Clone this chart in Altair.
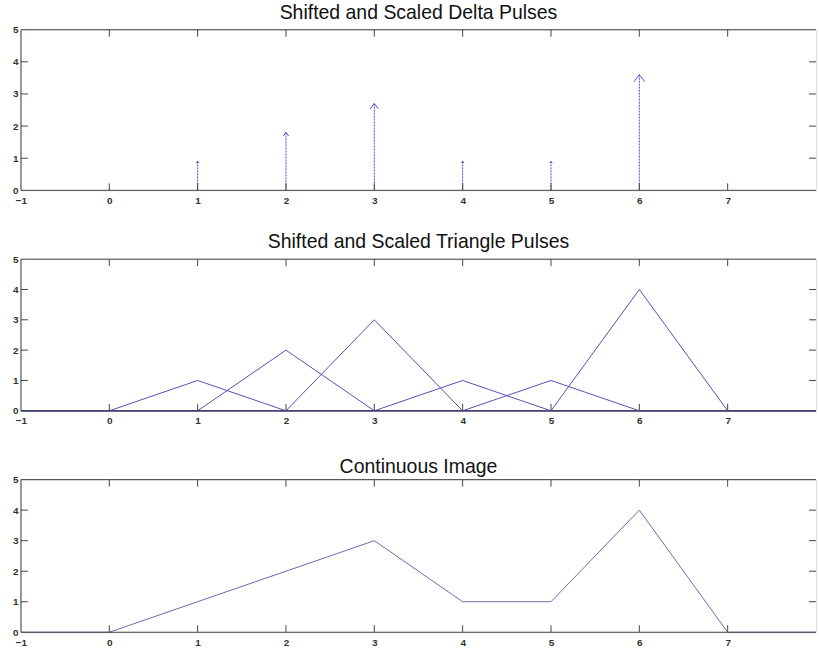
import altair as alt
import pandas as pd

# ---- data -------------------------------------------------------------
x_grid = [-1, 0, 1, 2, 3, 4, 5, 6, 7, 8]

# impulse positions and drawn arrow heights
delta_pos = [1, 2, 3, 4, 5, 6]
delta_height = [0.9, 1.8, 2.7, 0.9, 0.9, 3.6]

# triangle pulses sampled on x_grid
tri_p1 = [0, 0, 1, 0, 0, 0, 0, 0, 0, 0]
tri_p2 = [0, 0, 0, 2, 0, 0, 0, 0, 0, 0]
tri_p3 = [0, 0, 0, 0, 3, 0, 0, 0, 0, 0]
tri_p4 = [0, 0, 0, 0, 0, 1, 0, 0, 0, 0]
tri_p5 = [0, 0, 0, 0, 0, 0, 1, 0, 0, 0]
tri_p6 = [0, 0, 0, 0, 0, 0, 0, 4, 0, 0]

# sum of the triangles: the continuous (interpolated) image
continuous = [0, 0, 1, 2, 3, 1, 1, 4, 0, 0]

x_tick_values = [0, 1, 2, 3, 4, 5, 6, 7]
y_tick_values = [1, 2, 3, 4]
x_label_values = [-1, 0, 1, 2, 3, 4, 5, 6, 7]
y_label_values = [0, 1, 2, 3, 4, 5]

titles = [
    "Shifted and Scaled Delta Pulses",
    "Shifted and Scaled Triangle Pulses",
    "Continuous Image",
]

# ---- layout / style ---------------------------------------------------
W = 797
HEIGHTS = [161, 152, 153]
TICK = 7
FRAME_COLOR = "#444444"
FONT = "Liberation Sans"

xscale = alt.Scale(domain=[-1, 8], nice=False, zero=False)
yscale = alt.Scale(domain=[0, 5], nice=False, zero=False)

# one axis definition shared by every layer so the layer axes merge cleanly
x_axis = alt.Axis(values=x_label_values, ticks=False, domain=False, grid=False,
                  labelFontSize=10, labelFont=FONT, labelFontWeight="bold",
                  labelColor="#333333", labelPadding=5, labelFlush=False,
                  labelOverlap=False, title=None)
y_axis = alt.Axis(values=y_label_values, ticks=False, domain=False, grid=False,
                  labelFontSize=10, labelFont=FONT, labelFontWeight="bold",
                  labelColor="#333333", labelPadding=3, labelOverlap=False,
                  title=None)


def X(field):
    return alt.X(field, scale=xscale, axis=x_axis)


def Y(field):
    return alt.Y(field, scale=yscale, axis=y_axis)


def box_layers(h):
    """Frame (top, left, bottom) and MATLAB-style inward ticks on all sides."""
    one = alt.Data(values=[{"k": 0}])
    xt = pd.DataFrame({"t": x_tick_values})
    yt = pd.DataFrame({"t": y_tick_values})
    style = dict(color=FRAME_COLOR, strokeWidth=1)

    top = alt.Chart(one).mark_rule(**style).encode(
        x=alt.value(0), x2=alt.value(W), y=alt.value(0))
    bottom = alt.Chart(one).mark_rule(**style).encode(
        x=alt.value(0), x2=alt.value(W), y=alt.value(h))
    left = alt.Chart(one).mark_rule(**style).encode(
        x=alt.value(0), y=alt.value(0), y2=alt.value(h))

    xt_top = alt.Chart(xt).mark_rule(**style).encode(
        x=X("t:Q"), y=alt.value(0), y2=alt.value(TICK))
    xt_bot = alt.Chart(xt).mark_rule(**style).encode(
        x=X("t:Q"), y=alt.value(h), y2=alt.value(h - TICK))
    yt_left = alt.Chart(yt).mark_rule(**style).encode(
        y=Y("t:Q"), x=alt.value(0), x2=alt.value(TICK))
    yt_right = alt.Chart(yt).mark_rule(**style).encode(
        y=Y("t:Q"), x=alt.value(W), x2=alt.value(W - TICK))
    return [top, bottom, left, xt_top, xt_bot, yt_left, yt_right]


def title_params(text, offset=1.5):
    return alt.TitleParams(text=text, fontSize=19.5, font=FONT, fontWeight="normal",
                           color="#111111", offset=offset, anchor="middle")


# ---- panel 1: delta pulses drawn as arrows ---------------------------
delta_df = pd.DataFrame({"x": delta_pos, "h": delta_height})
stems = alt.Chart(delta_df).mark_rule(color="#4a4ad6", strokeWidth=1,
                                      strokeDash=[2, 1]).encode(
    x=X("x:Q"),
    y=Y("h:Q"),
    y2=alt.Y2(datum=0),
)
heads = alt.Chart(delta_df).mark_point(
    shape="M-1,1.3L0,0L1,1.3", filled=False, color="#4a4ad6", strokeWidth=1, opacity=1
).encode(
    x=X("x:Q"),
    y=Y("h:Q"),
    size=alt.Size("h:Q", scale=alt.Scale(type="pow", exponent=2, domain=[0, 3.6],
                                         range=[0, 115]), legend=None),
)
panel1 = alt.layer(stems, heads, *box_layers(HEIGHTS[0])).properties(
    width=W, height=HEIGHTS[0], title=title_params(titles[0]))

# ---- panel 2: triangle pulses -----------------------------------------
tri_rows = []
for name, ys in [("p1", tri_p1), ("p2", tri_p2), ("p3", tri_p3),
                 ("p4", tri_p4), ("p5", tri_p5), ("p6", tri_p6)]:
    for xv, yv in zip(x_grid, ys):
        tri_rows.append({"x": xv, "y": yv, "pulse": name})
tri_df = pd.DataFrame(tri_rows)
tri_lines = alt.Chart(tri_df).mark_line(color="#5252b4", strokeWidth=1).encode(
    x=X("x:Q"),
    y=Y("y:Q"),
    detail="pulse:N",
    order="x:Q",
)
panel2 = alt.layer(tri_lines, *box_layers(HEIGHTS[1])).properties(
    width=W, height=HEIGHTS[1], title=title_params(titles[1]))

# ---- panel 3: continuous image ----------------------------------------
cont_df = pd.DataFrame({"x": x_grid, "y": continuous})
cont_line = alt.Chart(cont_df).mark_line(color="#6a6ab4", strokeWidth=1).encode(
    x=X("x:Q"),
    y=Y("y:Q"),
)
panel3 = alt.layer(cont_line, *box_layers(HEIGHTS[2])).properties(
    width=W, height=HEIGHTS[2], title=title_params(titles[2], offset=-2.5))

upper = alt.vconcat(panel1, panel2, spacing=25)
chart = alt.vconcat(upper, panel3, spacing=29).properties(
    padding={"left": 11, "top": 1, "right": 0, "bottom": 0}
).configure_view(strokeOpacity=0, strokeWidth=0).configure(background="white")

chart.save("out.html", embed_options={"renderer": "svg", "actions": False})
